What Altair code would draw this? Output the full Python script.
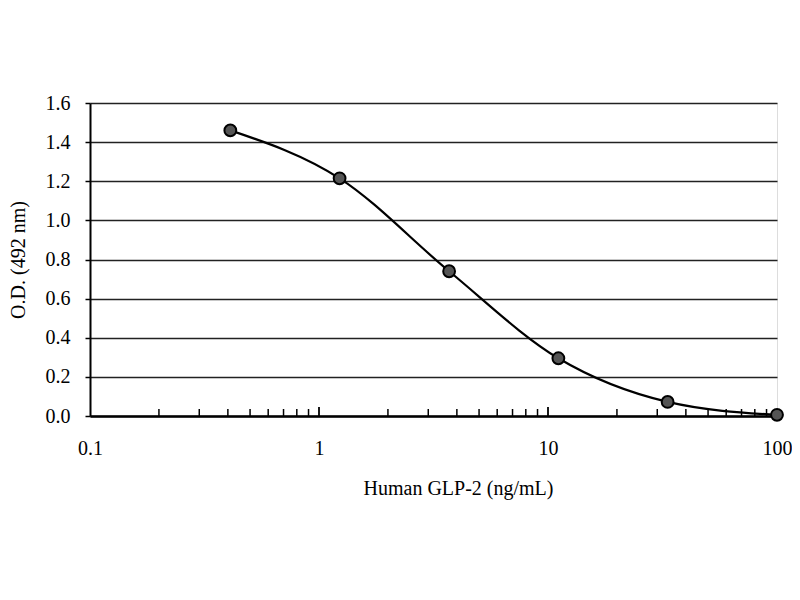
import altair as alt
import pandas as pd

conc = [0.41, 1.23, 3.7, 11.1, 33.3, 100]
od = [1.46, 1.215, 0.74, 0.295, 0.072, 0.006]
major_ticks = [0.1, 1, 10, 100]
minor_ticks = [0.2, 0.3, 0.4, 0.5, 0.6, 0.7, 0.8, 0.9,
               2, 3, 4, 5, 6, 7, 8, 9,
               20, 30, 40, 50, 60, 70, 80, 90]
inner_major = [1, 10]
y_ticks = [0, 0.2, 0.4, 0.6, 0.8, 1.0, 1.2, 1.4, 1.6]

df = pd.DataFrame({"conc": conc, "od": od})
ticks = pd.DataFrame({"t": minor_ticks})
ticks_major = pd.DataFrame({"t": inner_major})

FONT = "Liberation Serif"
FS = 20
W = 687
H = 313

xscale = alt.Scale(type="log", domain=[0.1, 100])
yscale = alt.Scale(domain=[0, 1.6])

xaxis = alt.Axis(values=major_ticks, format="~g", title="Human GLP-2 (ng/mL)",
                 grid=False, domainWidth=2.5, tickSize=0, ticks=False,
                 labelPadding=22, titlePadding=20, labelOverlap=False, labelFlush=False,
                 titleX=368,
                 labelFont=FONT, titleFont=FONT, labelFontSize=FS, titleFontSize=FS,
                 titleFontWeight="normal", labelColor="black", titleColor="black",
                 domainColor="black", tickColor="black", tickWidth=1.5)
yaxis = alt.Axis(values=y_ticks, format=".1f", title="O.D. (492 nm)",
                 grid=True, gridColor="#222222", gridWidth=1.4,
                 domainWidth=2, tickSize=5,
                 labelPadding=15, titlePadding=17, labelOverlap=False, labelFlush=False,
                 labelFont=FONT, titleFont=FONT, labelFontSize=FS, titleFontSize=FS,
                 titleFontWeight="normal", labelColor="black", titleColor="black",
                 domainColor="black", tickColor="black", tickWidth=1.5)

base = alt.Chart(df)

line = base.mark_line(color="black", strokeWidth=2.2, interpolate="monotone").encode(
    x=alt.X("conc:Q", scale=xscale, axis=xaxis),
    y=alt.Y("od:Q", scale=yscale, axis=yaxis),
)

points = base.mark_point(filled=True, shape="circle", size=140, color="#555555",
                         stroke="black", strokeWidth=2, opacity=1).encode(
    x=alt.X("conc:Q", scale=xscale, axis=xaxis),
    y=alt.Y("od:Q", scale=yscale, axis=yaxis),
)

minor = alt.Chart(ticks).mark_rule(color="black", strokeWidth=1.5).encode(
    x=alt.X("t:Q", scale=xscale, axis=xaxis),
    y=alt.value(H),
    y2=alt.value(H - 7),
)

major_in = alt.Chart(ticks_major).mark_rule(color="black", strokeWidth=1.8).encode(
    x=alt.X("t:Q", scale=xscale, axis=xaxis),
    y=alt.value(H),
    y2=alt.value(H - 9),
)

chart = alt.layer(line, minor, major_in, points).properties(
    width=W, height=H,
    autosize=alt.AutoSizeParams(type="none"),
    padding={"left": 82, "top": 95, "right": 15, "bottom": 150},
).configure_view(stroke="#999999", strokeWidth=1).configure(
    background="white"
).configure_axis(
    labelFont=FONT, titleFont=FONT, labelFontSize=FS, titleFontSize=FS,
    titleFontWeight="normal", labelColor="black", titleColor="black",
    domainColor="black", tickColor="black", tickWidth=1.5,
)

chart.save("out.html", embed_options={"renderer": "svg", "actions": False})
